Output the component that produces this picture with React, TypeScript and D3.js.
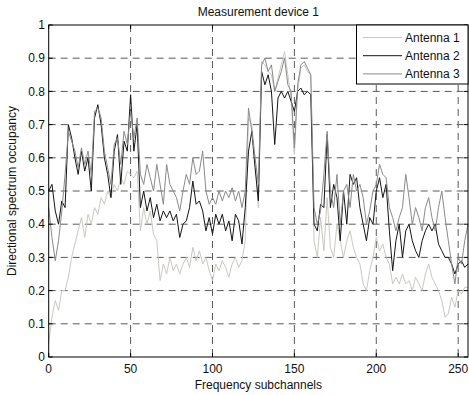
import React from "react";
import * as d3 from "d3";

const title = "Measurement device 1";
const xLabel = "Frequency subchannels";
const yLabel = "Directional spectrum occupancy";
const xTicks = [0, 50, 100, 150, 200, 250];
const yTicks = [0, 0.1, 0.2, 0.3, 0.4, 0.5, 0.6, 0.7, 0.8, 0.9, 1];
const seriesNames = ["Antenna 1", "Antenna 2", "Antenna 3"];
const seriesColors = ["#cbc8c2", "#151515", "#8a8a8a"];
// subchannel index of each sample (every 2nd subchannel, 0..256)
const channels = d3.range(0, 257, 2);

const antenna1 = [
  0.04, 0.12, 0.17, 0.14, 0.2, 0.2, 0.24, 0.3, 0.34, 0.38, 0.42, 0.36, 0.43, 0.4, 0.45, 0.43,
  0.48, 0.46, 0.5, 0.48, 0.52, 0.5, 0.54, 0.52, 0.56, 0.55, 0.54, 0.56, 0.38, 0.45, 0.4, 0.44,
  0.37, 0.35, 0.23, 0.28, 0.25, 0.3, 0.26, 0.28, 0.25, 0.28, 0.3, 0.27, 0.33, 0.29, 0.32, 0.28,
  0.3, 0.26, 0.23, 0.28, 0.26, 0.29, 0.27, 0.24, 0.28, 0.3, 0.27, 0.29, 0.35, 0.72, 0.7, 0.6,
  0.45, 0.89, 0.88, 0.86, 0.85, 0.8, 0.84, 0.88, 0.92, 0.85, 0.78, 0.61, 0.8, 0.87, 0.88, 0.86,
  0.85, 0.35, 0.3, 0.42, 0.32, 0.48, 0.33, 0.3, 0.4, 0.35, 0.3, 0.35, 0.38, 0.33, 0.3, 0.28,
  0.22, 0.2, 0.26, 0.3, 0.36, 0.32, 0.34, 0.3, 0.28, 0.22, 0.24, 0.22, 0.25, 0.22, 0.23, 0.2,
  0.24, 0.22, 0.2, 0.25, 0.28, 0.24, 0.22, 0.2, 0.17, 0.12, 0.13, 0.18, 0.15, 0.2, 0.19, 0.21,
  0.21,
];
const antenna2 = [
  0.5, 0.52, 0.44, 0.4, 0.47, 0.45, 0.7, 0.66, 0.6, 0.55, 0.62, 0.56, 0.6, 0.5, 0.72, 0.76,
  0.7, 0.6, 0.55, 0.48, 0.62, 0.67, 0.52, 0.65, 0.62, 0.79, 0.62, 0.7, 0.45, 0.5, 0.44, 0.48,
  0.42, 0.46, 0.41, 0.44, 0.42, 0.44, 0.41, 0.43, 0.36, 0.4, 0.41, 0.45, 0.53, 0.46, 0.47, 0.44,
  0.38, 0.42, 0.37, 0.43, 0.4, 0.43, 0.38, 0.41, 0.35, 0.43, 0.41, 0.34, 0.45, 0.62, 0.68, 0.57,
  0.47, 0.86, 0.82, 0.85, 0.8, 0.64, 0.78, 0.8, 0.78, 0.8, 0.77, 0.74, 0.8, 0.81, 0.79, 0.8,
  0.79, 0.4, 0.38, 0.46, 0.45, 0.67, 0.45, 0.52, 0.48, 0.35, 0.5, 0.4, 0.55, 0.52, 0.54, 0.45,
  0.4, 0.35, 0.42, 0.4, 0.5, 0.54, 0.48, 0.52, 0.38, 0.26, 0.35, 0.4, 0.3, 0.38, 0.4, 0.35,
  0.32, 0.3, 0.35, 0.38, 0.4, 0.38, 0.4, 0.34, 0.32, 0.3, 0.3, 0.28, 0.25, 0.28, 0.29, 0.27,
  0.28,
];
const antenna3 = [
  0.45, 0.36, 0.29, 0.35, 0.44, 0.55, 0.68, 0.65, 0.62, 0.57, 0.63, 0.58, 0.62, 0.55, 0.74, 0.75,
  0.72, 0.62, 0.57, 0.52, 0.64, 0.66, 0.58, 0.68, 0.64, 0.74, 0.66, 0.72, 0.55, 0.52, 0.58, 0.54,
  0.5, 0.58, 0.52, 0.46, 0.58, 0.52, 0.5, 0.48, 0.44, 0.5, 0.55, 0.52, 0.6, 0.55, 0.56, 0.62,
  0.5, 0.46, 0.48, 0.46, 0.5, 0.47, 0.5, 0.48, 0.51, 0.47, 0.5, 0.45, 0.5, 0.75, 0.68, 0.6,
  0.52, 0.88, 0.9, 0.86, 0.88, 0.8, 0.83, 0.86, 0.9, 0.82, 0.8, 0.63, 0.82, 0.88, 0.89, 0.87,
  0.85, 0.45, 0.4, 0.44, 0.55, 0.68, 0.5, 0.45, 0.55, 0.4, 0.5, 0.52, 0.45, 0.55, 0.5, 0.52,
  0.48, 0.4, 0.44, 0.5, 0.52, 0.58, 0.55, 0.54, 0.45, 0.42, 0.38, 0.42, 0.45, 0.55, 0.48, 0.4,
  0.45, 0.42, 0.38, 0.45, 0.48, 0.42, 0.38, 0.45, 0.5, 0.42, 0.35, 0.28, 0.22, 0.3, 0.28, 0.35,
  0.4,
];
const seriesValues = [antenna1, antenna2, antenna3];

const W = 469;
const H = 395;
const L = 48.7;
const R = 468;
const T = 25;
const B = 357;
const FONT = "'Liberation Sans', Arial, Helvetica, sans-serif";
const FS = 12;

export default function App() {
  const x = d3.scaleLinear().domain([0, 256]).range([L, R]);
  const y = d3.scaleLinear().domain([0, 1]).range([B, T]);
  const line = d3
    .line<number>()
    .x((_, i) => x(channels[i]))
    .y((d) => y(d));

  const legX = 356.5;
  const legRow = (i: number) => 37.5 + 18.2 * i;

  return (
    <svg
      width={W}
      height={H}
      style={{ position: "absolute", left: 0, top: 0, background: "#fff" }}
      fontFamily={FONT}
    >
      <rect x={0} y={0} width={W} height={H} fill="#fff" />
      <rect x={L} y={T} width={R - L} height={B - T} fill="#fff" />
      {/* grid */}
      {yTicks.slice(1, -1).map((t) => (
        <line
          key={"gy" + t}
          x1={L}
          x2={R}
          y1={y(t)}
          y2={y(t)}
          stroke="#5a5a5a"
          strokeWidth={1}
          strokeDasharray="7,5"
        />
      ))}
      {xTicks.slice(1).map((t) => (
        <line
          key={"gx" + t}
          x1={x(t)}
          x2={x(t)}
          y1={T}
          y2={B}
          stroke="#5a5a5a"
          strokeWidth={1}
          strokeDasharray="7,5"
        />
      ))}
      {/* series */}
      {seriesValues.map((vals, i) => (
        <path
          key={seriesNames[i]}
          d={line(vals) || ""}
          fill="none"
          stroke={seriesColors[i]}
          strokeWidth={1}
          strokeLinejoin="round"
        />
      ))}
      {/* axes box */}
      <rect x={L} y={T} width={R - L} height={B - T} fill="none" stroke="#000" strokeWidth={1} />
      {/* ticks */}
      {xTicks.map((t) => (
        <g key={"tx" + t}>
          <line x1={x(t)} x2={x(t)} y1={B} y2={B - 4} stroke="#000" />
          <line x1={x(t)} x2={x(t)} y1={T} y2={T + 4} stroke="#000" />
          <text x={x(t)} y={372.5} fontSize={FS} textAnchor="middle" fill="#111">
            {t}
          </text>
        </g>
      ))}
      {yTicks.map((t) => (
        <g key={"ty" + t}>
          <line x1={L} x2={L + 4} y1={y(t)} y2={y(t)} stroke="#000" />
          <line x1={R} x2={R - 4} y1={y(t)} y2={y(t)} stroke="#000" />
          <text x={45} y={y(t)} dy="0.35em" fontSize={FS} textAnchor="end" fill="#111">
            {t}
          </text>
        </g>
      ))}
      {/* labels */}
      <text x={(L + R) / 2} y={16} fontSize={FS} textAnchor="middle" fill="#111">
        {title}
      </text>
      <text x={(L + R) / 2} y={388.5} fontSize={FS} textAnchor="middle" fill="#111">
        {xLabel}
      </text>
      <text
        transform={`translate(16, ${(T + B) / 2}) rotate(-90)`}
        fontSize={FS}
        textAnchor="middle"
        fill="#111"
      >
        {yLabel}
      </text>
      {/* legend */}
      <rect x={legX} y={T} width={R - legX} height={59} fill="#fff" stroke="#000" strokeWidth={1} />
      {seriesNames.map((name, i) => (
        <g key={"leg" + name}>
          <line x1={363} x2={402} y1={legRow(i)} y2={legRow(i)} stroke={seriesColors[i]} strokeWidth={1} />
          <text x={405} y={legRow(i)} dy="0.35em" fontSize={FS} fill="#111">
            {name}
          </text>
        </g>
      ))}
    </svg>
  );
}
